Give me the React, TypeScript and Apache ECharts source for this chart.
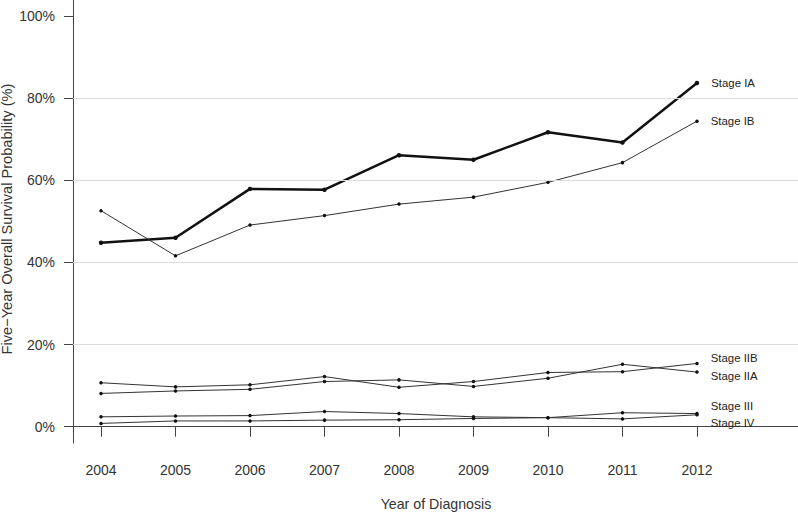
import React, { useEffect, useRef } from "react";
import * as echarts from "echarts";

const years = [2004, 2005, 2006, 2007, 2008, 2009, 2010, 2011, 2012];
const stageIA = [44.8, 46.0, 57.9, 57.7, 66.1, 65.0, 71.7, 69.2, 83.7];
const stageIB = [52.6, 41.6, 49.1, 51.4, 54.2, 55.9, 59.5, 64.3, 74.4];
const stageIIB = [10.7, 9.7, 10.2, 12.2, 9.6, 11.0, 13.2, 13.4, 15.4];
const stageIIA = [8.1, 8.7, 9.1, 11.0, 11.4, 9.8, 11.8, 15.2, 13.3];
const stageIII = [2.4, 2.6, 2.7, 3.7, 3.2, 2.4, 2.2, 3.4, 3.2];
const stageIV = [0.8, 1.4, 1.4, 1.6, 1.7, 2.0, 2.2, 1.9, 2.9];
const yTicks = [0, 20, 40, 60, 80, 100];
const gridValues = [20, 40, 60, 80];

const seriesDefs = [
  { name: "Stage IA", values: stageIA, width: 2.5, size: 4.5, dy: 0 },
  { name: "Stage IB", values: stageIB, width: 1, size: 3.5, dy: 0 },
  { name: "Stage IIB", values: stageIIB, width: 1, size: 3.5, dy: -5 },
  { name: "Stage IIA", values: stageIIA, width: 1, size: 3.5, dy: 4 },
  { name: "Stage III", values: stageIII, width: 1, size: 3.5, dy: -8 },
  { name: "Stage IV", values: stageIV, width: 1, size: 3.5, dy: 8 },
];

const FONT = "Liberation Sans, Arial, sans-serif";

export default function App() {
  const ref = useRef<HTMLDivElement>(null);
  useEffect(() => {
    if (!ref.current) return;
    const chart = echarts.init(ref.current, null, { renderer: "svg" });
    const series: any[] = [
      {
        type: "line",
        name: "grid",
        data: [],
        z: 1,
        silent: true,
        markLine: {
          silent: true,
          symbol: "none",
          label: { show: false },
          lineStyle: { color: "#dcdcdc", type: "solid", width: 1 },
          data: gridValues.map((v) => ({ yAxis: v })),
        },
      },
    ];
    seriesDefs.forEach((s) => {
      series.push({
        type: "line",
        name: s.name,
        z: 3,
        symbol: "circle",
        symbolSize: s.size,
        showAllSymbol: true,
        itemStyle: { color: "#111" },
        lineStyle: { color: s.width > 1 ? "#111" : "#333", width: s.width },
        data: years.map((y, i) => {
          const item: any = { value: [y, s.values[i]] };
          if (i === years.length - 1) {
            item.label = {
              show: true,
              position: "right",
              distance: 12,
              offset: [0, s.dy],
              formatter: s.name,
              fontSize: 11.4,
              fontFamily: FONT,
              color: "#222",
            };
          }
          return item;
        }),
      });
    });
    chart.setOption({
      animation: false,
      grid: { left: 73, right: 0, top: 0, bottom: 71, containLabel: false },
      xAxis: {
        type: "value",
        min: 2003.624,
        max: 2013.356,
        axisLine: { show: true, lineStyle: { color: "#444", width: 1 } },
        axisTick: {
          show: true,
          length: 10,
          customValues: years,
          lineStyle: { color: "#444" },
        },
        axisLabel: {
          customValues: years,
          margin: 20,
          fontSize: 14,
          fontFamily: FONT,
          color: "#333",
          formatter: (v: number) => String(Math.round(v)),
        },
        splitLine: { show: false },
      },
      yAxis: {
        type: "value",
        min: -3.97,
        max: 103.9,
        axisLine: { show: true, lineStyle: { color: "#444", width: 1 } },
        axisTick: {
          show: true,
          length: 9,
          customValues: yTicks,
          lineStyle: { color: "#444" },
        },
        axisLabel: {
          customValues: yTicks,
          margin: 18,
          fontSize: 14,
          fontFamily: FONT,
          color: "#333",
          formatter: (v: number) => Math.round(v) + "%",
        },
        splitLine: { show: false },
      },
      graphic: [
        {
          type: "text",
          x: 436,
          y: 504,
          style: {
            text: "Year of Diagnosis",
            fontSize: 14.2,
            fontFamily: FONT,
            fill: "#333",
            textAlign: "center",
            textVerticalAlign: "middle",
          },
        },
        {
          type: "text",
          x: 7,
          y: 219,
          rotation: Math.PI / 2,
          style: {
            text: "Five\u2212Year Overall Survival Probability (%)",
            fontSize: 14.6,
            fontFamily: FONT,
            fill: "#333",
            textAlign: "center",
            textVerticalAlign: "middle",
          },
        },
      ],
      series,
    });
    return () => chart.dispose();
  }, []);
  return (
    <div
      ref={ref}
      style={{ position: "absolute", left: 0, top: 0, width: 798, height: 514 }}
    />
  );
}
